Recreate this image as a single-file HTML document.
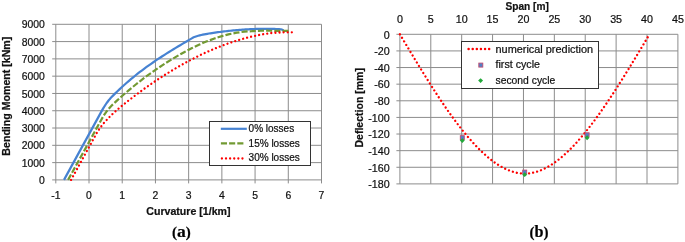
<!DOCTYPE html>
<html><head><meta charset="utf-8"><style>
html,body{margin:0;padding:0;background:#fff;}
body{width:685px;height:242px;position:relative;overflow:hidden;font-family:"Liberation Sans",sans-serif;}
svg{will-change:transform}
svg text{font-family:"Liberation Sans",sans-serif;stroke:#111;stroke-width:0.22px;}
svg text.nb{stroke:none}
</style></head><body>
<svg width="685" height="242" viewBox="0 0 685 242" style="position:absolute;left:0;top:0"><line x1="55.80" y1="24.30" x2="55.80" y2="183.40" stroke="#8c8c8c" stroke-width="1"/><line x1="89.01" y1="24.30" x2="89.01" y2="183.40" stroke="#8c8c8c" stroke-width="1"/><line x1="122.22" y1="24.30" x2="122.22" y2="183.40" stroke="#8c8c8c" stroke-width="1"/><line x1="155.44" y1="24.30" x2="155.44" y2="183.40" stroke="#8c8c8c" stroke-width="1"/><line x1="188.65" y1="24.30" x2="188.65" y2="183.40" stroke="#8c8c8c" stroke-width="1"/><line x1="221.86" y1="24.30" x2="221.86" y2="183.40" stroke="#8c8c8c" stroke-width="1"/><line x1="255.07" y1="24.30" x2="255.07" y2="183.40" stroke="#8c8c8c" stroke-width="1"/><line x1="288.29" y1="24.30" x2="288.29" y2="183.40" stroke="#8c8c8c" stroke-width="1"/><line x1="321.50" y1="24.30" x2="321.50" y2="183.40" stroke="#8c8c8c" stroke-width="1"/><line x1="52.20" y1="179.90" x2="321.50" y2="179.90" stroke="#8c8c8c" stroke-width="1"/><line x1="52.20" y1="162.61" x2="321.50" y2="162.61" stroke="#8c8c8c" stroke-width="1"/><line x1="52.20" y1="145.32" x2="321.50" y2="145.32" stroke="#8c8c8c" stroke-width="1"/><line x1="52.20" y1="128.03" x2="321.50" y2="128.03" stroke="#8c8c8c" stroke-width="1"/><line x1="52.20" y1="110.74" x2="321.50" y2="110.74" stroke="#8c8c8c" stroke-width="1"/><line x1="52.20" y1="93.46" x2="321.50" y2="93.46" stroke="#8c8c8c" stroke-width="1"/><line x1="52.20" y1="76.17" x2="321.50" y2="76.17" stroke="#8c8c8c" stroke-width="1"/><line x1="52.20" y1="58.88" x2="321.50" y2="58.88" stroke="#8c8c8c" stroke-width="1"/><line x1="52.20" y1="41.59" x2="321.50" y2="41.59" stroke="#8c8c8c" stroke-width="1"/><line x1="52.20" y1="24.30" x2="321.50" y2="24.30" stroke="#8c8c8c" stroke-width="1"/><text x="44.8" y="184.00" text-anchor="end" font-size="10.4" fill="#111">0</text><text x="44.8" y="166.71" text-anchor="end" font-size="10.4" fill="#111">1000</text><text x="44.8" y="149.42" text-anchor="end" font-size="10.4" fill="#111">2000</text><text x="44.8" y="132.13" text-anchor="end" font-size="10.4" fill="#111">3000</text><text x="44.8" y="114.84" text-anchor="end" font-size="10.4" fill="#111">4000</text><text x="44.8" y="97.56" text-anchor="end" font-size="10.4" fill="#111">5000</text><text x="44.8" y="80.27" text-anchor="end" font-size="10.4" fill="#111">6000</text><text x="44.8" y="62.98" text-anchor="end" font-size="10.4" fill="#111">7000</text><text x="44.8" y="45.69" text-anchor="end" font-size="10.4" fill="#111">8000</text><text x="44.8" y="28.40" text-anchor="end" font-size="10.4" fill="#111">9000</text><text x="55.80" y="199.40" text-anchor="middle" font-size="10.4" fill="#111">-1</text><text x="89.01" y="199.40" text-anchor="middle" font-size="10.4" fill="#111">0</text><text x="122.22" y="199.40" text-anchor="middle" font-size="10.4" fill="#111">1</text><text x="155.44" y="199.40" text-anchor="middle" font-size="10.4" fill="#111">2</text><text x="188.65" y="199.40" text-anchor="middle" font-size="10.4" fill="#111">3</text><text x="221.86" y="199.40" text-anchor="middle" font-size="10.4" fill="#111">4</text><text x="255.07" y="199.40" text-anchor="middle" font-size="10.4" fill="#111">5</text><text x="288.29" y="199.40" text-anchor="middle" font-size="10.4" fill="#111">6</text><text x="321.50" y="199.40" text-anchor="middle" font-size="10.4" fill="#111">7</text><text x="188.4" y="215.4" text-anchor="middle" font-size="10.4" font-weight="bold" fill="#111" textLength="84.2" lengthAdjust="spacingAndGlyphs">Curvature [1/km]</text><text transform="translate(9.6,96.2) rotate(-90)" text-anchor="middle" font-size="10.6" font-weight="bold" fill="#111">Bending Moment [kNm]</text><polyline points="64.00,179.90 101.63,111.12 102.48,109.60 103.35,108.12 104.22,106.70 105.10,105.32 106.00,104.00 106.90,102.72 107.82,101.49 108.75,100.30 109.69,99.17 110.64,98.08 111.60,97.05 113.00,95.62 115.24,93.39 117.48,91.22 119.72,89.10 121.96,87.02 124.20,84.99 126.44,83.01 128.68,81.07 130.92,79.18 133.16,77.32 135.40,75.50 137.64,73.73 139.88,71.99 142.12,70.28 144.36,68.61 146.60,66.97 148.84,65.36 151.08,63.78 153.32,62.23 155.56,60.70 157.80,59.20 160.04,57.72 162.28,56.26 164.52,54.82 166.76,53.40 169.00,52.00 171.23,50.61 173.47,49.24 175.71,47.88 177.95,46.53 180.19,45.19 182.43,43.86 184.67,42.53 186.91,41.21 189.15,39.90 191.39,38.58 193.63,37.27 195.16,36.73 196.68,36.23 198.21,35.79 199.73,35.39 201.26,35.02 202.79,34.69 204.31,34.37 205.84,34.08 207.36,33.80 208.89,33.54 210.41,33.29 211.94,33.05 213.46,32.82 214.99,32.60 216.51,32.39 218.04,32.18 219.57,31.99 221.09,31.80 222.62,31.61 224.14,31.42 225.67,31.24 227.19,31.07 228.72,30.90 230.24,30.74 231.77,30.59 233.30,30.43 234.82,30.29 236.35,30.15 237.87,30.02 239.40,29.90 240.92,29.78 242.45,29.66 243.97,29.56 245.50,29.46 247.03,29.37 248.55,29.28 250.08,29.20 251.60,29.13 253.13,29.07 254.65,29.01 256.18,28.97 257.70,28.94 259.23,28.90 260.75,28.87 262.28,28.85 263.81,28.83 265.33,28.83 266.86,28.84 268.38,28.85 269.91,28.86 271.43,28.89 272.96,28.91 274.48,28.94 276.01,28.98 277.54,29.04 279.06,29.12 280.59,29.24 282.11,29.65 283.64,30.26" fill="none" stroke="#4682d2" stroke-width="2.2" stroke-linejoin="round"/><polyline points="68.09,179.90 101.63,119.16 102.50,117.65 103.39,116.17 104.32,114.72 105.28,113.31 106.27,111.93 107.30,110.59 108.36,109.28 109.45,108.00 110.58,106.75 111.73,105.54 112.93,104.37 113.74,103.59 117.47,100.15 121.20,96.80 124.93,93.54 128.66,90.36 132.39,87.27 136.12,84.25 139.85,81.32 143.58,78.47 147.31,75.69 151.04,73.00 154.77,70.37 158.50,67.82 162.23,65.34 165.96,62.94 169.69,60.60 173.42,58.33 177.15,56.12 180.88,53.99 184.61,51.93 188.34,49.95 192.07,48.05 195.80,46.23 199.53,44.50 203.26,42.86 206.99,41.31 210.72,39.86 214.45,38.51 218.18,37.26 221.91,36.12 225.64,35.09 229.37,34.17 233.10,33.37 236.83,32.69 240.56,32.13 244.29,31.69 248.02,31.39 251.75,31.22 252.71,31.14 253.66,31.07 254.62,31.01 255.57,30.95 256.52,30.90 257.48,30.86 258.43,30.82 259.38,30.79 260.34,30.77 261.29,30.75 262.25,30.73 263.20,30.72 264.15,30.72 265.11,30.71 266.06,30.71 267.01,30.72 267.97,30.72 268.92,30.73 269.88,30.74 270.83,30.75 271.78,30.76 272.74,30.78 273.69,30.79 274.64,30.81 275.60,30.82 276.55,30.83 277.51,30.85 278.46,30.86 279.41,30.87 280.37,30.87 281.32,30.88 282.28,30.88 283.23,30.88 284.18,30.88 285.14,30.87 286.09,30.86 287.04,30.85 288.00,30.83 288.95,30.80" fill="none" stroke="#729a33" stroke-width="2.2" stroke-dasharray="6.1,2.1"/><polyline points="71.08,179.90 95.66,134.97 96.27,133.87 96.92,132.76 97.59,131.66 98.29,130.56 99.02,129.46 99.77,128.37 100.55,127.27 101.36,126.17 102.20,125.08 103.07,123.99 103.96,122.89 107.83,118.65 112.26,114.25 116.69,110.22 121.12,106.47 125.55,102.89 129.97,99.42 134.40,96.03 138.83,92.72 143.26,89.49 147.69,86.34 152.12,83.27 156.54,80.28 160.97,77.37 165.40,74.54 169.83,71.79 174.26,69.13 178.69,66.54 183.11,64.03 187.54,61.61 191.97,59.27 196.40,57.01 200.83,54.85 205.26,52.77 209.68,50.78 214.11,48.88 218.54,47.07 222.97,45.35 227.40,43.73 231.83,42.20 236.25,40.77 240.68,39.44 245.11,38.20 249.54,37.07 253.97,36.04 258.40,35.11 262.82,34.28 267.25,33.56 271.68,32.94 272.21,32.91 272.74,32.88 273.27,32.85 273.79,32.82 274.32,32.79 274.85,32.75 275.38,32.73 275.91,32.70 276.43,32.67 276.96,32.64 277.49,32.61 278.02,32.59 278.55,32.56 279.07,32.54 279.60,32.51 280.13,32.49 280.66,32.47 281.19,32.45 281.71,32.43 282.24,32.41 282.77,32.40 283.30,32.38 283.83,32.37 284.35,32.35 284.88,32.34 285.41,32.33 285.94,32.32 286.47,32.31 286.99,32.31 287.52,32.30 288.05,32.30 288.58,32.30 289.11,32.30 289.63,32.30 290.16,32.31 290.69,32.31 291.22,32.32 291.75,32.33 292.27,32.34" fill="none" stroke="#ff0000" stroke-width="2.3" stroke-dasharray="0.01,4.1" stroke-linecap="round"/><rect x="209.5" y="121.5" width="101" height="44" fill="#fff" stroke="#333" stroke-width="1"/><line x1="220.8" y1="128.8" x2="246.8" y2="128.8" stroke="#4682d2" stroke-width="2.2"/><line x1="220.9" y1="143.4" x2="243.4" y2="143.4" stroke="#729a33" stroke-width="2.2" stroke-dasharray="6.1,2.1"/><line x1="221.9" y1="158.5" x2="244" y2="158.5" stroke="#ff0000" stroke-width="2.3" stroke-dasharray="0.01,4.1" stroke-linecap="round"/><text x="248.6" y="132.10" font-size="10" fill="#111">0% losses</text><text x="248.6" y="146.60" font-size="10" fill="#111">15% losses</text><text x="248.6" y="160.90" font-size="10" fill="#111">30% losses</text><line x1="399.90" y1="34.30" x2="399.90" y2="183.90" stroke="#8c8c8c" stroke-width="1"/><line x1="430.79" y1="34.30" x2="430.79" y2="183.90" stroke="#8c8c8c" stroke-width="1"/><line x1="461.68" y1="34.30" x2="461.68" y2="183.90" stroke="#8c8c8c" stroke-width="1"/><line x1="492.57" y1="34.30" x2="492.57" y2="183.90" stroke="#8c8c8c" stroke-width="1"/><line x1="523.46" y1="34.30" x2="523.46" y2="183.90" stroke="#8c8c8c" stroke-width="1"/><line x1="554.34" y1="34.30" x2="554.34" y2="183.90" stroke="#8c8c8c" stroke-width="1"/><line x1="585.23" y1="34.30" x2="585.23" y2="183.90" stroke="#8c8c8c" stroke-width="1"/><line x1="616.12" y1="34.30" x2="616.12" y2="183.90" stroke="#8c8c8c" stroke-width="1"/><line x1="647.01" y1="34.30" x2="647.01" y2="183.90" stroke="#8c8c8c" stroke-width="1"/><line x1="677.90" y1="34.30" x2="677.90" y2="183.90" stroke="#8c8c8c" stroke-width="1"/><line x1="396.40" y1="34.30" x2="677.90" y2="34.30" stroke="#8c8c8c" stroke-width="1"/><line x1="396.40" y1="50.92" x2="677.90" y2="50.92" stroke="#8c8c8c" stroke-width="1"/><line x1="396.40" y1="67.54" x2="677.90" y2="67.54" stroke="#8c8c8c" stroke-width="1"/><line x1="396.40" y1="84.17" x2="677.90" y2="84.17" stroke="#8c8c8c" stroke-width="1"/><line x1="396.40" y1="100.79" x2="677.90" y2="100.79" stroke="#8c8c8c" stroke-width="1"/><line x1="396.40" y1="117.41" x2="677.90" y2="117.41" stroke="#8c8c8c" stroke-width="1"/><line x1="396.40" y1="134.03" x2="677.90" y2="134.03" stroke="#8c8c8c" stroke-width="1"/><line x1="396.40" y1="150.66" x2="677.90" y2="150.66" stroke="#8c8c8c" stroke-width="1"/><line x1="396.40" y1="167.28" x2="677.90" y2="167.28" stroke="#8c8c8c" stroke-width="1"/><line x1="396.40" y1="183.90" x2="677.90" y2="183.90" stroke="#8c8c8c" stroke-width="1"/><text x="389.6" y="38.60" text-anchor="end" font-size="10.7" fill="#111">0</text><text x="389.6" y="55.22" text-anchor="end" font-size="10.7" fill="#111">-20</text><text x="389.6" y="71.84" text-anchor="end" font-size="10.7" fill="#111">-40</text><text x="389.6" y="88.47" text-anchor="end" font-size="10.7" fill="#111">-60</text><text x="389.6" y="105.09" text-anchor="end" font-size="10.7" fill="#111">-80</text><text x="389.6" y="121.71" text-anchor="end" font-size="10.7" fill="#111">-100</text><text x="389.6" y="138.33" text-anchor="end" font-size="10.7" fill="#111">-120</text><text x="389.6" y="154.96" text-anchor="end" font-size="10.7" fill="#111">-140</text><text x="389.6" y="171.58" text-anchor="end" font-size="10.7" fill="#111">-160</text><text x="389.6" y="188.20" text-anchor="end" font-size="10.7" fill="#111">-180</text><text x="399.90" y="22.5" text-anchor="middle" font-size="10.7" fill="#111">0</text><text x="430.79" y="22.5" text-anchor="middle" font-size="10.7" fill="#111">5</text><text x="461.68" y="22.5" text-anchor="middle" font-size="10.7" fill="#111">10</text><text x="492.57" y="22.5" text-anchor="middle" font-size="10.7" fill="#111">15</text><text x="523.46" y="22.5" text-anchor="middle" font-size="10.7" fill="#111">20</text><text x="554.34" y="22.5" text-anchor="middle" font-size="10.7" fill="#111">25</text><text x="585.23" y="22.5" text-anchor="middle" font-size="10.7" fill="#111">30</text><text x="616.12" y="22.5" text-anchor="middle" font-size="10.7" fill="#111">35</text><text x="647.01" y="22.5" text-anchor="middle" font-size="10.7" fill="#111">40</text><text x="677.90" y="22.5" text-anchor="middle" font-size="10.7" fill="#111">45</text><text x="527.2" y="10.2" text-anchor="middle" font-size="10.7" font-weight="bold" fill="#111" textLength="43.4" lengthAdjust="spacingAndGlyphs">Span [m]</text><text transform="translate(362.9,107.8) rotate(-90)" text-anchor="middle" font-size="10.7" font-weight="bold" fill="#111" textLength="79.4" lengthAdjust="spacingAndGlyphs">Deflection [mm]</text><polyline points="399.90,34.30 401.15,36.39 402.40,38.48 403.64,40.57 404.89,42.65 406.14,44.74 407.39,46.82 408.64,48.90 409.88,50.98 411.13,53.05 412.38,55.12 413.63,57.19 414.87,59.25 416.12,61.31 417.37,63.36 418.62,65.41 419.87,67.45 421.11,69.48 422.36,71.50 423.61,73.52 424.86,75.53 426.11,77.53 427.35,79.53 428.60,81.51 429.85,83.48 431.10,85.45 432.35,87.40 433.59,89.34 434.84,91.27 436.09,93.19 437.34,95.10 438.59,97.00 439.83,98.88 441.08,100.75 442.33,102.60 443.58,104.44 444.82,106.27 446.07,108.08 447.32,109.88 448.57,111.66 449.82,113.42 451.06,115.17 452.31,116.90 453.56,118.61 454.81,120.30 456.06,121.98 457.30,123.63 458.55,125.27 459.80,126.89 461.05,128.49 462.30,130.06 463.54,131.62 464.79,133.16 466.04,134.67 467.29,136.16 468.54,137.63 469.78,139.08 471.03,140.50 472.28,141.90 473.53,143.27 474.77,144.62 476.02,145.95 477.27,147.24 478.52,148.52 479.77,149.76 481.01,150.99 482.26,152.18 483.51,153.34 484.76,154.48 486.01,155.59 487.25,156.67 488.50,157.72 489.75,158.74 491.00,159.73 492.25,160.69 493.49,161.62 494.74,162.52 495.99,163.39 497.24,164.22 498.48,165.02 499.73,165.79 500.98,166.53 502.23,167.23 503.48,167.90 504.72,168.53 505.97,169.13 507.22,169.69 508.47,170.22 509.72,170.71 510.96,171.16 512.21,171.57 513.46,171.95 514.71,172.29 515.96,172.59 517.20,172.86 518.45,173.08 519.70,173.26 520.95,173.41 522.20,173.51 523.44,173.57 524.69,173.59 525.94,173.57 527.19,173.51 528.43,173.41 529.68,173.26 530.93,173.08 532.18,172.86 533.43,172.59 534.67,172.29 535.92,171.95 537.17,171.57 538.42,171.16 539.67,170.71 540.91,170.22 542.16,169.69 543.41,169.13 544.66,168.53 545.91,167.90 547.15,167.23 548.40,166.53 549.65,165.79 550.90,165.02 552.15,164.22 553.39,163.39 554.64,162.52 555.89,161.62 557.14,160.69 558.38,159.73 559.63,158.74 560.88,157.72 562.13,156.67 563.38,155.59 564.62,154.48 565.87,153.34 567.12,152.18 568.37,150.99 569.62,149.76 570.86,148.52 572.11,147.24 573.36,145.95 574.61,144.62 575.86,143.27 577.10,141.90 578.35,140.50 579.60,139.08 580.85,137.63 582.10,136.16 583.34,134.67 584.59,133.16 585.84,131.62 587.09,130.06 588.33,128.49 589.58,126.89 590.83,125.27 592.08,123.63 593.33,121.98 594.57,120.30 595.82,118.61 597.07,116.90 598.32,115.17 599.57,113.42 600.81,111.66 602.06,109.88 603.31,108.08 604.56,106.27 605.81,104.44 607.05,102.60 608.30,100.75 609.55,98.88 610.80,97.00 612.04,95.10 613.29,93.19 614.54,91.27 615.79,89.34 617.04,87.40 618.28,85.45 619.53,83.48 620.78,81.51 622.03,79.53 623.28,77.53 624.52,75.53 625.77,73.52 627.02,71.50 628.27,69.48 629.52,67.45 630.76,65.41 632.01,63.36 633.26,61.31 634.51,59.25 635.76,57.19 637.00,55.12 638.25,53.05 639.50,50.98 640.75,48.90 641.99,46.82 643.24,44.74 644.49,42.65 645.74,40.57 646.99,38.48 648.23,36.39 649.48,34.30" fill="none" stroke="#ff0000" stroke-width="2.3" stroke-dasharray="0.01,4.1" stroke-linecap="round"/><rect x="460.30" y="135.69" width="4.0" height="4.0" fill="#4f81c8" stroke="#c04e72" stroke-width="0.9"/><rect x="522.69" y="170.10" width="4.0" height="4.0" fill="#4f81c8" stroke="#c04e72" stroke-width="0.9"/><rect x="585.09" y="132.78" width="4.0" height="4.0" fill="#4f81c8" stroke="#c04e72" stroke-width="0.9"/><path d="M462.30,138.15 L464.75,140.60 L462.30,143.05 L459.85,140.60Z" fill="#22a83a"/><path d="M524.69,172.22 L527.14,174.67 L524.69,177.12 L522.24,174.67Z" fill="#22a83a"/><path d="M587.09,135.24 L589.54,137.69 L587.09,140.14 L584.64,137.69Z" fill="#22a83a"/><rect x="461.5" y="41.5" width="137" height="47" fill="#fff" stroke="#333" stroke-width="1"/><line x1="468.6" y1="49.1" x2="491" y2="49.1" stroke="#ff0000" stroke-width="2.5" stroke-dasharray="0.01,4.1" stroke-linecap="round"/><rect x="478.80" y="63.10" width="4.0" height="4.0" fill="#4f81c8" stroke="#c04e72" stroke-width="0.9"/><path d="M480.60,78.15 L483.05,80.60 L480.60,83.05 L478.15,80.60Z" fill="#22a83a"/><text x="495.5" y="52.60" font-size="10.7" fill="#111" textLength="97.6" lengthAdjust="spacingAndGlyphs">numerical prediction</text><text x="495.5" y="68.20" font-size="10.7" fill="#111" textLength="44.55" lengthAdjust="spacingAndGlyphs">first cycle</text><text x="495.5" y="83.60" font-size="10.7" fill="#111" textLength="59.8" lengthAdjust="spacingAndGlyphs">second cycle</text><text x="181.3" y="237.2" text-anchor="middle" style="font-family:&quot;Liberation Serif&quot;,serif" font-weight="bold" font-size="15" fill="#000">(<tspan font-size="17.5">a</tspan>)</text><text x="539" y="237.2" text-anchor="middle" style="font-family:&quot;Liberation Serif&quot;,serif" font-weight="bold" font-size="15" fill="#000">(<tspan font-size="16.2">b</tspan>)</text></svg>
</body></html>
